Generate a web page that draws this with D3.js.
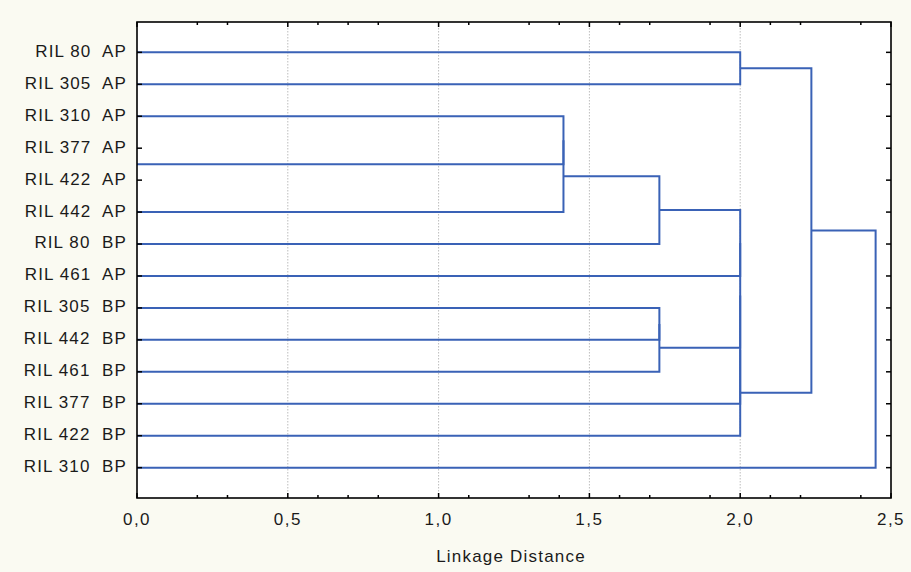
<!DOCTYPE html>
<html><head><meta charset="utf-8">
<script src="https://cdn.jsdelivr.net/npm/d3@7"></script>
<style>
html,body{margin:0;padding:0;background:#fafaf2;}
svg{display:block;}
text{font-family:"Liberation Sans",Arial,sans-serif;fill:#1a1a1a;}
</style></head>
<body>
<svg id="chart" width="911" height="572"></svg>
<script>
// Leaves in drawing order (top to bottom)
const leaves = ["RIL 80 AP","RIL 305 AP","RIL 310 AP","RIL 377 AP","RIL 422 AP","RIL 442 AP","RIL 80 BP",
  "RIL 461 AP","RIL 305 BP","RIL 442 BP","RIL 461 BP","RIL 377 BP","RIL 422 BP","RIL 310 BP"];
// Merges: [childA, childB, linkage distance]; new clusters get ids 14, 15, ...
const mergeA = [3, 2, 15, 16, 8, 18, 0, 17, 21, 22, 23, 20, 25];
const mergeB = [4, 14, 5, 6, 9, 10, 1, 7, 19, 11, 12, 24, 13];
const mergeH = [0, 1.414, 1.414, 1.732, 1.732, 1.732, 2.0, 2.0, 2.0, 2.0, 2.0, 2.236, 2.449];
// Axis ticks
const majorTicks = [0, 0.5, 1.0, 1.5, 2.0, 2.5];
const majorLabels = ["0,0","0,5","1,0","1,5","2,0","2,5"];
const minorTicks = [0.2,0.3,0.6,0.7,0.8,1.1,1.3,1.4,1.6,1.7,1.9,2.1,2.2,2.4];
const gridTicks = [0.5, 1.0, 1.5, 2.0];
const xTitle = "Linkage Distance";

const L = 137, R = 891, T = 22, B = 498;
const svg = d3.select("#chart");
const x = d3.scaleLinear().domain([0, 2.5]).range([L, R]);
const y = d3.scalePoint().domain(d3.range(leaves.length)).range([T, B]).padding(0.95);

svg.append("rect").attr("x", L).attr("y", T).attr("width", R - L).attr("height", B - T).attr("fill", "#ffffff");

// grid
svg.append("g").selectAll("line").data(gridTicks).join("line")
  .attr("x1", d => x(d)).attr("x2", d => x(d)).attr("y1", T).attr("y2", B)
  .attr("stroke", "#bdbdbd").attr("stroke-width", 1).attr("stroke-dasharray", "1.5,1.5");

// dendrogram
const pos = leaves.map((d, i) => ({ y: y(i), h: 0 }));
const col = "#3a62b6";
const g = svg.append("g").attr("fill", "none").attr("stroke", col).attr("stroke-width", 2);
mergeA.forEach((a, i) => {
  const b = mergeB[i], h = mergeH[i];
  const pa = pos[a], pb = pos[b];
  const path = d3.path();
  path.moveTo(x(pa.h), pa.y); path.lineTo(x(h), pa.y);
  path.lineTo(x(h), pb.y); path.lineTo(x(pb.h), pb.y);
  if (h > 0) g.append("path").attr("d", path.toString());
  pos.push({ y: (pa.y + pb.y) / 2, h: h });
});

// frame
svg.append("rect").attr("x", L).attr("y", T).attr("width", R - L).attr("height", B - T)
  .attr("fill", "none").attr("stroke", "#000").attr("stroke-width", 1.6);

// ticks
const tk = svg.append("g").attr("stroke", "#000").attr("stroke-width", 1.5);
majorTicks.forEach(d => {
  tk.append("line").attr("x1", x(d)).attr("x2", x(d)).attr("y1", B).attr("y2", B - 5);
  tk.append("line").attr("x1", x(d)).attr("x2", x(d)).attr("y1", T).attr("y2", T + 5);
});
minorTicks.forEach(d => {
  tk.append("line").attr("x1", x(d)).attr("x2", x(d)).attr("y1", B).attr("y2", B - 3);
  tk.append("line").attr("x1", x(d)).attr("x2", x(d)).attr("y1", T).attr("y2", T + 3);
});
leaves.forEach((d, i) => {
  tk.append("line").attr("x1", L).attr("x2", L + 5).attr("y1", y(i)).attr("y2", y(i));
  tk.append("line").attr("x1", R).attr("x2", R - 5).attr("y1", y(i)).attr("y2", y(i));
});

// labels
svg.append("g").selectAll("text").data(leaves).join("text")
  .attr("x", 127).attr("y", (d, i) => y(i) - 1.5).attr("dy", "0.35em")
  .attr("text-anchor", "end").attr("font-size", 17).attr("letter-spacing", "1.1px")
  .attr("xml:space", "preserve").style("white-space", "pre")
  .text(d => d.replace(/ (AP|BP)$/, "  $1"));

svg.append("g").selectAll("text").data(majorTicks).join("text")
  .attr("x", d => x(d)).attr("y", 525).attr("text-anchor", "middle")
  .attr("font-size", 17).attr("letter-spacing", "1.5px")
  .text((d, i) => majorLabels[i]);

svg.append("text").attr("x", 511).attr("y", 562).attr("text-anchor", "middle")
  .attr("font-size", 17).attr("letter-spacing", "1.2px").text(xTitle);
</script>
</body></html>
